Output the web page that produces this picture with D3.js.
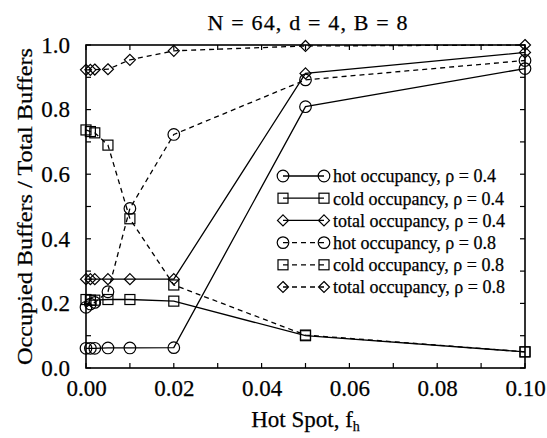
<!DOCTYPE html>
<html><head><meta charset="utf-8">
<script src="https://cdn.jsdelivr.net/npm/d3@7"></script>
<style>body{margin:0;background:#fff}svg{display:block}text{font-family:"Liberation Serif","Times New Roman",serif;fill:#000;stroke:#000;stroke-width:0.25px}</style>
</head><body>
<script>
const xValues = [0, 0.001, 0.002, 0.005, 0.01, 0.02, 0.05, 0.1];
const hot04   = [0.061, 0.061, 0.061, 0.062, 0.062, 0.063, 0.809, 0.927];
const cold04  = [0.212, 0.210, 0.210, 0.212, 0.212, 0.207, 0.100, 0.050];
const total04 = [0.275, 0.275, 0.275, 0.275, 0.275, 0.275, 0.912, 0.977];
const hot08   = [0.188, 0.198, 0.203, 0.236, 0.494, 0.723, 0.892, 0.952];
const cold08  = [0.737, 0.732, 0.728, 0.690, 0.462, 0.257, 0.102, 0.050];
const total08 = [0.923, 0.923, 0.924, 0.925, 0.954, 0.982, 0.997, 1.000];
const seriesNames = ["hot occupancy, \u03c1 = 0.4","cold occupancy, \u03c1 = 0.4","total occupancy, \u03c1 = 0.4",
                     "hot occupancy, \u03c1 = 0.8","cold occupancy, \u03c1 = 0.8","total occupancy, \u03c1 = 0.8"];
const xTicks = [0, 0.02, 0.04, 0.06, 0.08, 0.10];
const yTicks = [0, 0.2, 0.4, 0.6, 0.8, 1.0];
const titleText = "N = 64, d = 4,  B = 8";

const series = [
  {name: seriesNames[0], vals: hot04, shape: "circle", dash: null},
  {name: seriesNames[1], vals: cold04, shape: "square", dash: null},
  {name: seriesNames[2], vals: total04, shape: "diamond", dash: null},
  {name: seriesNames[3], vals: hot08, shape: "circle", dash: "5,4"},
  {name: seriesNames[4], vals: cold08, shape: "square", dash: "5,4"},
  {name: seriesNames[5], vals: total08, shape: "diamond", dash: "5,4"}
];

const W = 547, H = 438;
const m = {left: 86, right: 22, top: 45, bottom: 70};
const svg = d3.select("body").append("svg").attr("width", W).attr("height", H);
const x = d3.scaleLinear().domain([0, 0.1]).range([m.left, W - m.right]);
const y = d3.scaleLinear().domain([0, 1]).range([H - m.bottom, m.top]);

const tickLen = 5;
const xMinor = d3.range(0, 0.1001, 0.01);
const yMinor = d3.range(0, 1.001, 0.1);

// axes
const gx = svg.append("g").attr("transform", `translate(0,${y(0)})`)
  .call(d3.axisBottom(x).tickValues(xTicks).tickFormat(d3.format(".2f")).tickSize(0).tickPadding(12));
const gy = svg.append("g").attr("transform", `translate(${x(0)},0)`)
  .call(d3.axisLeft(y).tickValues(yTicks).tickFormat(d3.format(".1f")).tickSize(0).tickPadding(16));
[gx, gy].forEach(g => { g.select(".domain").remove(); g.selectAll("text").style("font-size", "23px").style("font-family", "Liberation Serif"); });

// ticks (inward, all sides)
const tk = svg.append("g").attr("stroke", "#000").attr("stroke-width", 1.2);
xMinor.forEach(v => {
  tk.append("line").attr("x1", x(v)).attr("x2", x(v)).attr("y1", y(0)).attr("y2", y(0) - tickLen);
  tk.append("line").attr("x1", x(v)).attr("x2", x(v)).attr("y1", y(1)).attr("y2", y(1) + tickLen);
});
yMinor.forEach(v => {
  tk.append("line").attr("x1", x(0)).attr("x2", x(0) + tickLen).attr("y1", y(v)).attr("y2", y(v));
  tk.append("line").attr("x1", x(0.1)).attr("x2", x(0.1) - tickLen).attr("y1", y(v)).attr("y2", y(v));
});
svg.append("rect").attr("x", x(0)).attr("y", y(1)).attr("width", x(0.1) - x(0)).attr("height", y(0) - y(1))
  .attr("fill", "none").attr("stroke", "#000").attr("stroke-width", 1.6);

function drawMarker(g, shape, cx, cy) {
  if (shape === "circle") g.append("circle").attr("cx", cx).attr("cy", cy).attr("r", 5.8);
  else if (shape === "square") g.append("rect").attr("x", cx - 5).attr("y", cy - 5).attr("width", 10).attr("height", 10);
  else g.append("path").attr("d", `M${cx},${cy-5.5}L${cx+5.5},${cy}L${cx},${cy+5.5}L${cx-5.5},${cy}Z`);
}

const line = d3.line().x(d => x(d[0])).y(d => y(d[1]));
series.forEach(s => {
  const pts = xValues.map((xv, i) => [xv, s.vals[i]]);
  svg.append("path").attr("d", line(pts)).attr("fill", "none").attr("stroke", "#000")
    .attr("stroke-width", 1.3).attr("stroke-dasharray", s.dash);
  const g = svg.append("g").attr("fill", "none").attr("stroke", "#000").attr("stroke-width", 1.2);
  pts.forEach(p => drawMarker(g, s.shape, x(p[0]), y(p[1])));
});

// legend
const lg = svg.append("g");
series.forEach((s, i) => {
  const yy = 176 + i * 22.2;
  lg.append("line").attr("x1", 283).attr("x2", 324).attr("y1", yy).attr("y2", yy)
    .attr("stroke", "#000").attr("stroke-width", 1.3).attr("stroke-dasharray", s.dash);
  const g = lg.append("g").attr("fill", "none").attr("stroke", "#000").attr("stroke-width", 1.2);
  drawMarker(g, s.shape, 283, yy);
  drawMarker(g, s.shape, 324, yy);
  lg.append("text").attr("x", 333).attr("y", yy).attr("dy", "0.35em").style("font-size", "18px").text(s.name);
});

// title and axis labels
svg.append("text").attr("x", 307.5).attr("y", 30).attr("text-anchor", "middle")
  .attr("textLength", 200).attr("lengthAdjust", "spacing")
  .style("font-size", "22px").text(titleText);
const xl = svg.append("text").attr("x", (x(0) + x(0.1)) / 2).attr("y", 427).attr("text-anchor", "middle").style("font-size", "23px");
xl.append("tspan").text("Hot Spot, f");
xl.append("tspan").attr("dy", 4).style("font-size", "14px").text("h");
svg.append("text").attr("transform", `translate(32,${(y(0) + y(1)) / 2}) rotate(-90)`).attr("text-anchor", "middle")
  .attr("textLength", 317).attr("lengthAdjust", "spacingAndGlyphs")
  .style("font-size", "22px").text("Occupied Buffers / Total Buffers");
</script>
</body></html>
